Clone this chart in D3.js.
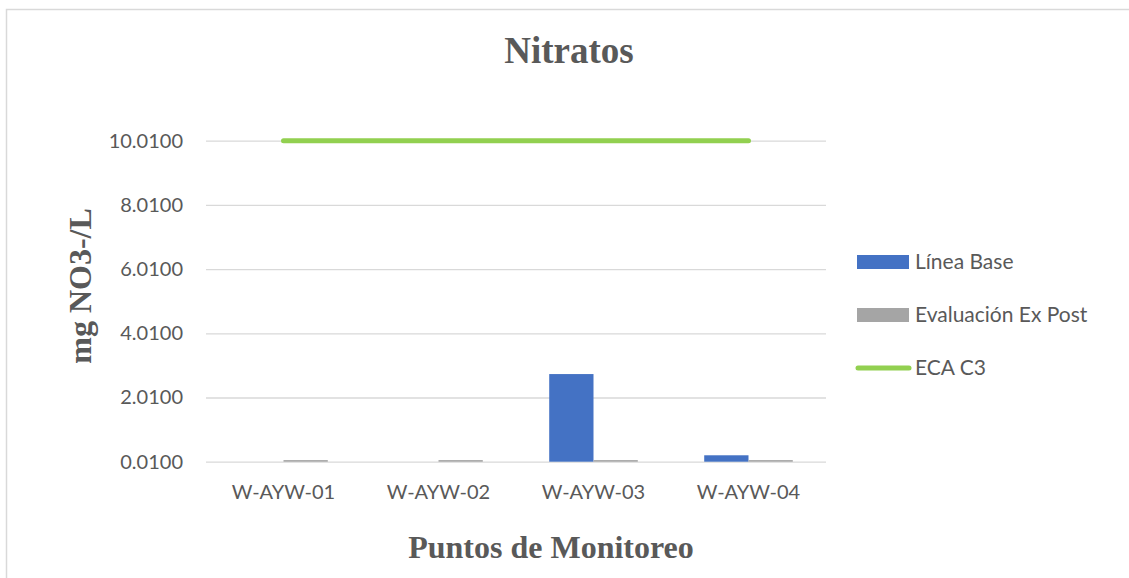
<!DOCTYPE html>
<html>
<head>
<meta charset="utf-8">
<title>Nitratos</title>
<script src="https://d3js.org/d3.v7.min.js"></script>
<style>
  body { margin: 0; background: #fff; }
  text { fill: #595959; }
  .tick text { font-family: Lato, sans-serif; font-size: 20px; }
  .serif { font-family: "Liberation Serif", "Times New Roman", serif; font-weight: bold; }
</style>
</head>
<body>
<svg width="1129" height="578"></svg>
<script>
// data
var categories = ['W-AYW-01', 'W-AYW-02', 'W-AYW-03', 'W-AYW-04'];
var lineaBase = [0.01, 0.01, 2.74, 0.21];
var exPost = [0.06, 0.06, 0.06, 0.06];
var ecaC3 = [10.01, 10.01, 10.01, 10.01];
var yTicks = [0.01, 2.01, 4.01, 6.01, 8.01, 10.01];
var seriesNames = ['Línea Base', 'Evaluación Ex Post'];
var seriesColors = ['#4472C4', '#A5A5A5'];
var lineColor = '#92D050';

var svg = d3.select('svg');

// chart border (Excel chart area)
svg.append('rect')
  .attr('x', 6.5).attr('y', 9.5)
  .attr('width', 1200).attr('height', 700)
  .attr('fill', 'none').attr('stroke', '#D9D9D9').attr('stroke-width', 1.5);

var plotL = 206, plotR = 826, plotT = 140.7, plotB = 461.7;

var x = d3.scaleBand().domain(categories).range([plotL, plotR]).padding(0);
var xSub = d3.scaleBand().domain(seriesNames).range([0, x.bandwidth()])
  .paddingInner(0).paddingOuter(0.75);
var y = d3.scaleLinear().domain([0.01, 10.01]).range([plotB, plotT]);

// gridlines + y labels
var yAxis = svg.append('g')
  .attr('transform', `translate(${plotL},0)`)
  .call(d3.axisLeft(y).tickValues(yTicks).tickFormat(d3.format('.4f'))
    .tickSize(-(plotR - plotL)).tickPadding(23));
yAxis.select('.domain').remove();
yAxis.selectAll('.tick line').attr('stroke', '#D9D9D9').attr('stroke-width', 1.3);

// x labels
var xAxis = svg.append('g')
  .attr('transform', `translate(0,${plotB})`)
  .call(d3.axisBottom(x).tickSize(0).tickPadding(23));
xAxis.select('.domain').remove();

// bars
var table = categories.map((c, i) => ({cat: c, vals: [lineaBase[i], exPost[i]]}));
var groups = svg.selectAll('.grp')
  .data(table)
  .enter().append('g')
  .attr('transform', d => `translate(${x(d.cat)},0)`);

groups.selectAll('rect')
  .data(d => d.vals.map((v, j) => ({name: seriesNames[j], v: v, color: seriesColors[j]})))
  .enter().append('rect')
  .attr('x', d => xSub(d.name))
  .attr('width', xSub.bandwidth())
  .attr('y', d => y(d.v))
  .attr('height', d => y(0.01) - y(d.v))
  .attr('fill', d => d.color);

// ECA C3 line
var line = d3.line()
  .x((d, i) => x(categories[i]) + x.bandwidth() / 2)
  .y(d => y(d));
svg.append('path')
  .datum(ecaC3)
  .attr('d', line)
  .attr('fill', 'none')
  .attr('stroke', lineColor)
  .attr('stroke-width', 5)
  .attr('stroke-linecap', 'round');

// titles
svg.append('text').attr('class', 'serif')
  .attr('x', 569).attr('y', 63)
  .attr('text-anchor', 'middle')
  .style('font-size', '37px')
  .text('Nitratos');

svg.append('text').attr('class', 'serif')
  .attr('x', 551).attr('y', 558)
  .attr('text-anchor', 'middle')
  .style('font-size', '32px')
  .text('Puntos de Monitoreo');

svg.append('text').attr('class', 'serif')
  .attr('transform', 'translate(91,286) rotate(-90)')
  .attr('text-anchor', 'middle')
  .style('font-size', '32px')
  .text('mg NO3-/L');

// legend
var legend = svg.append('g').style('font-family', 'Lato, sans-serif').style('font-size', '21px');
var legItems = [
  {name: seriesNames[0], color: seriesColors[0], type: 'rect', y: 262},
  {name: seriesNames[1], color: seriesColors[1], type: 'rect', y: 315},
  {name: 'ECA C3', color: lineColor, type: 'line', y: 368}
];
legItems.forEach(function (d) {
  if (d.type === 'rect') {
    legend.append('rect')
      .attr('x', 857).attr('y', d.y - 7)
      .attr('width', 52).attr('height', 14)
      .attr('fill', d.color);
  } else {
    legend.append('line')
      .attr('x1', 858).attr('x2', 909)
      .attr('y1', d.y).attr('y2', d.y)
      .attr('stroke', d.color).attr('stroke-width', 5)
      .attr('stroke-linecap', 'round');
  }
  legend.append('text')
    .attr('x', 915).attr('y', d.y + 7)
    .text(d.name);
});
</script>
</body>
</html>
